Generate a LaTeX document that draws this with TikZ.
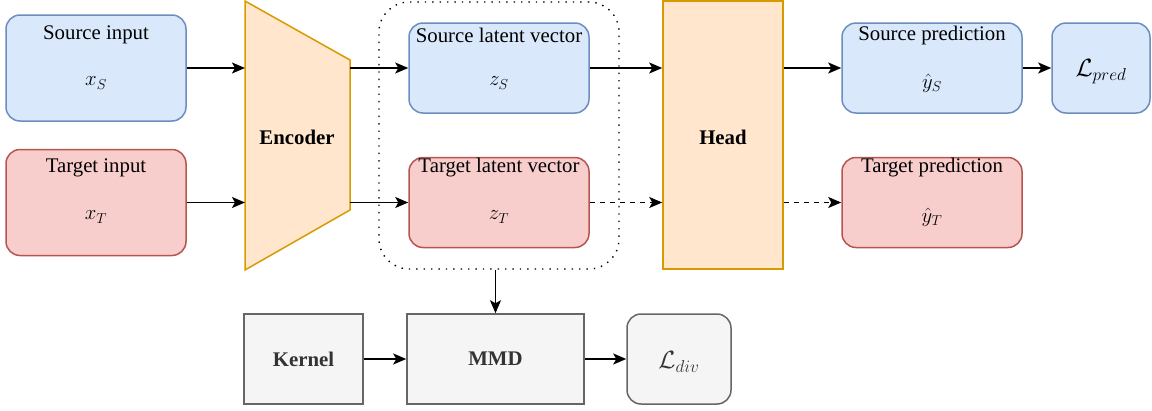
\documentclass[tikz,border=0pt]{standalone}
\usepackage{fontspec}
\setmainfont{Liberation Serif}
\usetikzlibrary{arrows.meta}

\definecolor{blueF}{HTML}{DAE8FC}
\definecolor{blueD}{HTML}{6C8EBF}
\definecolor{redF}{HTML}{F8CECC}
\definecolor{redD}{HTML}{B85450}
\definecolor{orF}{HTML}{FFE6CC}
\definecolor{orD}{HTML}{D79B00}
\definecolor{grF}{HTML}{F5F5F5}
\definecolor{grD}{HTML}{666666}
\definecolor{grT}{HTML}{333333}

\begin{document}
\begin{tikzpicture}[x=1pt,y=-1pt,
  font=\fontsize{20.8}{24}\selectfont,
  base/.style={draw, line width=1.5pt, inner sep=0pt},
  rbox/.style={base, rounded corners=14pt},
  srcbox/.style={rbox, fill=blueF, draw=blueD},
  tgtbox/.style={rbox, fill=redF, draw=redD},
  orbox/.style={base, fill=orF, draw=orD},
  grbox/.style={base, fill=grF, draw=grD, text=grT},
  wide/.style={minimum width=180pt, minimum height=106pt},
  mid/.style={minimum width=180pt, minimum height=90pt},
  lbl/.style={inner sep=0pt},
  mathlbl/.style={inner sep=0pt, font=\fontsize{22.5}{26}\selectfont},
  boldlbl/.style={font=\fontsize{20.8}{24}\selectfont\bfseries},
  lossfont/.style={font=\fontsize{25}{29}\selectfont},
  arr/.style={line width=1.5pt, -{Stealth[length=13pt, width=11pt, inset=3pt]}},
  darr/.style={arr, dash pattern=on 5pt off 5pt},
  group/.style={draw, line width=1.4pt, dash pattern=on 1.4pt off 6pt, rounded corners=30pt,
    minimum width=240pt, minimum height=267pt}
]
\useasboundingbox (0,0) rectangle (1152,410);

% inputs
\node[srcbox, wide] (si) at (96,68) {};
\node[lbl] (si-t) at (96,35) {Source input};
\node[mathlbl] (si-m) at (96,83) {$x_S$};
\node[tgtbox, wide] (ti) at (96,202.5) {};
\node[lbl] (ti-t) at (96,168) {Target input};
\node[mathlbl] (ti-m) at (96,217) {$x_T$};

% encoder
\draw[base, fill=orF, draw=orD] (245,1) -- (350,60) -- (350,210) -- (245,270) -- cycle;
\node[lbl, boldlbl] (enc) at (297,137) {Encoder};
\coordinate (encIn) at (245,135);
\coordinate (encOut) at (350,135);

% latent vectors and their grouping
\node[group] (grp) at (499,135.5) {};
\node[srcbox, mid] (sl) at (499,68) {};
\node[lbl] (sl-t) at (499,35) {Source latent vector};
\node[mathlbl] (sl-m) at (499,83) {$z_S$};
\node[tgtbox, mid] (tl) at (499,202.5) {};
\node[lbl] (tl-t) at (499,168) {Target latent vector};
\node[mathlbl] (tl-m) at (499,217) {$z_T$};

% head
\node[orbox, minimum width=120pt, minimum height=268pt] (head) at (723,135) {};
\node[lbl, boldlbl] (head-t) at (723,137) {Head};

% predictions
\node[srcbox, mid] (sp) at (932,68) {};
\node[lbl] (sp-t) at (932,35) {Source prediction};
\node[mathlbl] (sp-m) at (932,83) {$\hat{y}_S$};
\node[tgtbox, mid] (tp) at (932,202.5) {};
\node[lbl] (tp-t) at (932,168) {Target prediction};
\node[mathlbl] (tp-m) at (932,217) {$\hat{y}_T$};
\node[srcbox, minimum width=98pt, minimum height=90pt] (lp) at (1101,68) {};
\node[lbl, lossfont] (lp-m) at (1101,72) {$\mathcal{L}_{pred}$};

% divergence branch
\node[grbox, boldlbl, minimum width=119pt, minimum height=90pt] (ker) at (303.5,359) {Kernel};
\node[grbox, boldlbl, minimum width=177pt, minimum height=90pt] (mmd) at (495.5,359) {MMD};
\node[grbox, rounded corners=14pt, minimum width=104pt, minimum height=90pt] (ld) at (679,359) {};
\node[lbl, lossfont, text=grT] (ld-m) at (679,362) {$\mathcal{L}_{div}$};

% connectors
\draw[arr] (si.east) -- (si.east -| encIn);
\draw[arr] (ti.east) -- (ti.east -| encIn);
\draw[arr] (sl.west -| encOut) -- (sl.west);
\draw[arr] (tl.west -| encOut) -- (tl.west);
\draw[arr] (sl.east) -- (sl.east -| head.west);
\draw[darr] (tl.east) -- (tl.east -| head.west);
\draw[arr] (sp.west -| head.east) -- (sp.west);
\draw[darr] (tp.west -| head.east) -- (tp.west);
\draw[arr] (sp.east) -- (lp.west);
\draw[arr] (mmd.north |- grp.south) -- (mmd.north);
\draw[arr] (ker.east) -- (mmd.west);
\draw[arr] (mmd.east) -- (ld.west);
\end{tikzpicture}
\end{document}
